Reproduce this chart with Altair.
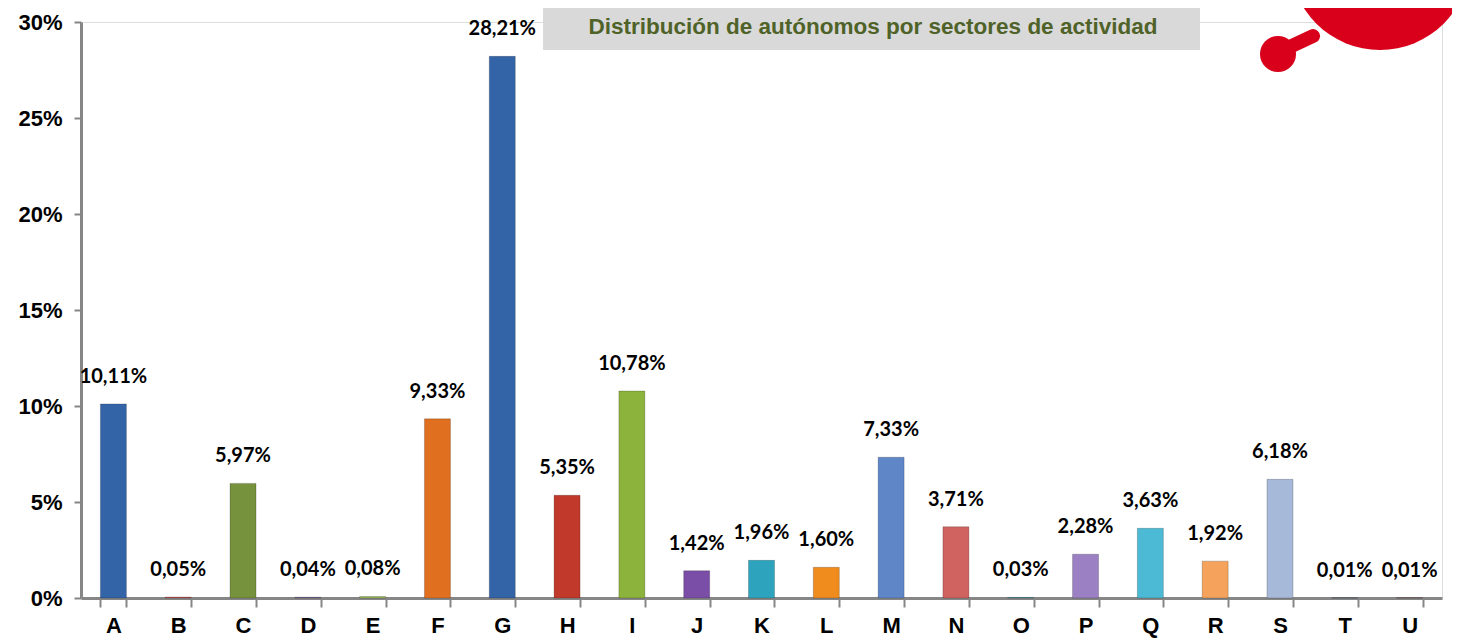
import altair as alt
import pandas as pd

sectors = ["A","B","C","D","E","F","G","H","I","J","K","L","M","N","O","P","Q","R","S","T","U"]
values = [10.11,0.05,5.97,0.04,0.08,9.33,28.21,5.35,10.78,1.42,1.96,1.60,7.33,3.71,0.03,2.28,3.63,1.92,6.18,0.01,0.01]
colors = ["#3464a8","#c0504d","#76923c","#8064a2","#9bbb59","#e07020","#3464a8","#c0392b","#8cb33c","#7a4ea6",
          "#2ea3bd","#f08c1e","#5f87c8","#d0625f","#4bacc6","#9c80c4","#4cbad4","#f5a35c","#a7b9d9","#4f81bd","#c0504d"]
title_text = "Distribución de autónomos por sectores de actividad"
y_ticks = [0, 5, 10, 15, 20, 25, 30]

df = pd.DataFrame({"sector": sectors, "value": values, "color": colors})

AX_FONT = "Liberation Sans Narrow, Arial Narrow, Liberation Sans, sans-serif"

x = alt.X("sector:N", sort=sectors, title=None,
          scale=alt.Scale(paddingInner=0.6, paddingOuter=0.3),
          axis=alt.Axis(labelAngle=0, labelFont=AX_FONT, labelFontSize=22, labelFontWeight="bold",
                        labelColor="#000000", domainColor="#868686", domainWidth=3,
                        tickColor="#868686", tickWidth=2, tickSize=9, tickBand="extent",
                        labelPadding=8))
y = alt.Y("value:Q", title=None,
          scale=alt.Scale(domain=[0, 30]),
          axis=alt.Axis(values=y_ticks, labelExpr="datum.value + '%'", grid=False,
                        labelFont=AX_FONT, labelFontSize=22, labelFontWeight="bold",
                        labelColor="#000000", domainColor="#868686", domainWidth=3,
                        tickColor="#868686", tickWidth=2, tickSize=7, labelPadding=12))

base = alt.Chart(df)

bars = base.mark_bar(size=26, stroke="#00000033", strokeWidth=1).encode(
    x=x, y=y, color=alt.Color("color:N", scale=None)
)

labels = base.transform_calculate(
    lbl="replace(format(datum.value, '.2f'), '.', ',') + '%'"
).mark_text(font="Lato, Open Sans, sans-serif", fontSize=20, fontWeight="bold",
            color="#000000", baseline="middle", dy=-27).encode(
    x=alt.X("sector:N", sort=sectors), y="value:Q", text="lbl:N"
)

title_box = alt.Chart(pd.DataFrame({"t": [title_text]})).mark_rect(color="#d9d9d9").encode(
    x=alt.value(462), x2=alt.value(1119), y=alt.value(-14), y2=alt.value(28)
)
title_lbl = alt.Chart(pd.DataFrame({"t": [title_text]})).mark_text(
    font="Liberation Sans, Arial, sans-serif", fontSize=22.5, fontWeight="bold",
    color="#4f6228", align="center", baseline="middle").encode(
    x=alt.value(792), y=alt.value(5), text="t:N"
)

logo_big = alt.Chart(pd.DataFrame({"k": [1]})).mark_point(
    shape="circle", filled=True, color="#d9001b", opacity=1, size=32400).encode(
    x=alt.value(1299), y=alt.value(-62)
)
logo_neck = alt.Chart(pd.DataFrame({"k": [1]})).mark_rule(
    color="#d9001b", strokeWidth=14, strokeCap="round").encode(
    x=alt.value(1200), y=alt.value(29), x2=alt.value(1232), y2=alt.value(14)
)
logo_small = alt.Chart(pd.DataFrame({"k": [1]})).mark_point(
    shape="circle", filled=True, color="#d9001b", opacity=1, size=1300).encode(
    x=alt.value(1197), y=alt.value(32)
)

chart = alt.layer(bars, labels, title_box, title_lbl, logo_neck, logo_big, logo_small).properties(
    width=1361, height=576,
    autosize=alt.AutoSizeParams(type="none"),
    padding={"left": 73, "top": 14, "right": 10, "bottom": 40}
).configure_view(stroke=None).configure(background="#ffffff")

chart.save("out.html", embed_options={"renderer": "svg", "actions": False})
